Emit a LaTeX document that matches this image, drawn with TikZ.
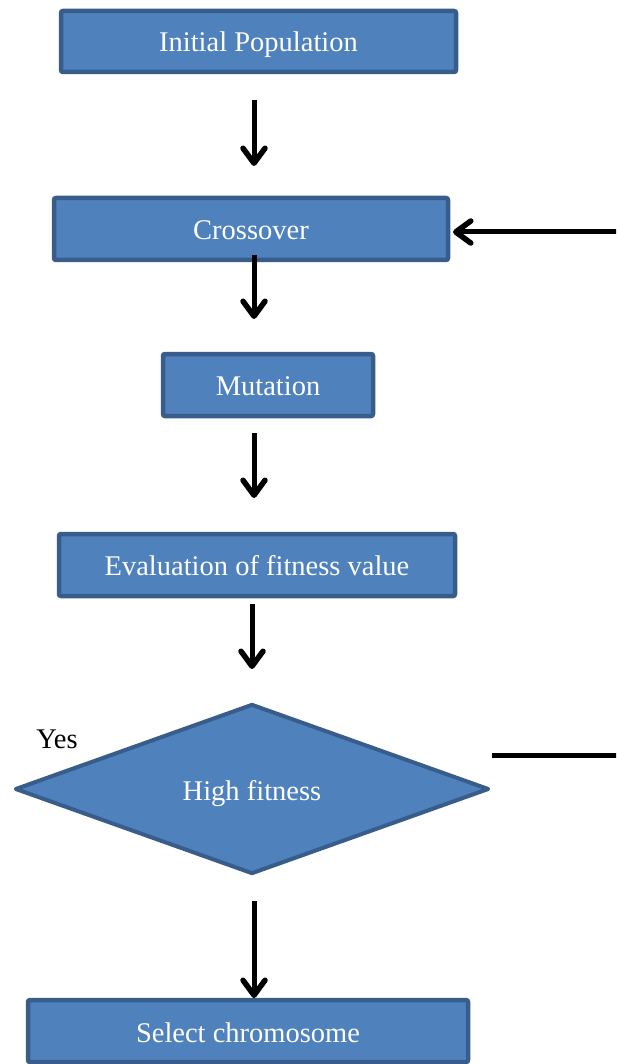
\documentclass[tikz,border=0pt]{standalone}
\usepackage{fontspec}
\setmainfont{Liberation Serif}
\usetikzlibrary{shapes.geometric,arrows.meta}
\definecolor{boxfill}{HTML}{4F81BD}
\definecolor{boxline}{HTML}{385D8A}
\newcommand{\lowered}[2]{\raisebox{-#1}{#2}}
\begin{document}
\begin{tikzpicture}[x=1pt,y=-1pt,
  stepbox/.style={draw=boxline,fill=boxfill,line width=4.5pt,rounded corners=2pt,text=white,
    font=\fontsize{28.5}{32}\selectfont,inner sep=0pt,text height=19.5pt,text depth=6.5pt},
  decide/.style={shape=diamond,draw=boxline,fill=boxfill,line width=4pt,line join=round,text=white,
    font=\fontsize{28.5}{32}\selectfont,inner sep=0pt,text height=19.5pt,text depth=6.5pt,
    minimum width=474pt,minimum height=170pt},
  flow/.style={line width=5pt,-{Straight Barb[length=15pt,width=22pt,line width=5.5pt,round]}},
  ]
\useasboundingbox (0,0) rectangle (616,1064);
\clip (0,0) rectangle (616,1064);
\node[stepbox,minimum width=395pt,minimum height=61pt] (init) at (258.5,41.5) {\lowered{4pt}{Initial Population}};
\node[stepbox,minimum width=394pt,minimum height=62pt] (cross) at (251,229) {\lowered{4pt}{Crossover}};
\node[stepbox,minimum width=210pt,minimum height=62pt] (mut) at (268,385) {\lowered{3.5pt}{Mutation}};
\node[stepbox,minimum width=396pt,minimum height=62pt] (eval) at (257,565) {\lowered{3.5pt}{Evaluation of fitness value}};
\node[decide] (hf) at (252,789) {\lowered{5pt}{High fitness}};
\node[stepbox,minimum width=440pt,minimum height=62pt] (sel) at (248,1031) {\lowered{4.5pt}{Select chromosome}};
\node[font=\fontsize{28.5}{32}\selectfont] (yes) at (57,739) {Yes};
\coordinate (a1s) at (254,100); \coordinate (a1e) at (254,166);
\coordinate (a2s) at (254,255); \coordinate (a2e) at (254,319);
\coordinate (a3s) at (254,433); \coordinate (a3e) at (254,498);
\coordinate (a4s) at (252,604); \coordinate (a4e) at (252,669);
\coordinate (a5s) at (254,901); \coordinate (a5e) at (254,998);
\draw[flow] (a1s) -- (a1e);
\draw[flow] (a2s) -- (a2e);
\draw[flow] (a3s) -- (a3e);
\draw[flow] (a4s) -- (a4e);
\draw[flow] (a5s) -- (a5e);
\coordinate (lstart) at (492,755);
\coordinate (lcorner1) at (622,755);
\coordinate (lcorner2) at (622,232);
\coordinate (lend) at (453,232);
\draw[flow] (lstart) -- (lcorner1) -- (lcorner2) -- (lend);
\end{tikzpicture}
\end{document}
